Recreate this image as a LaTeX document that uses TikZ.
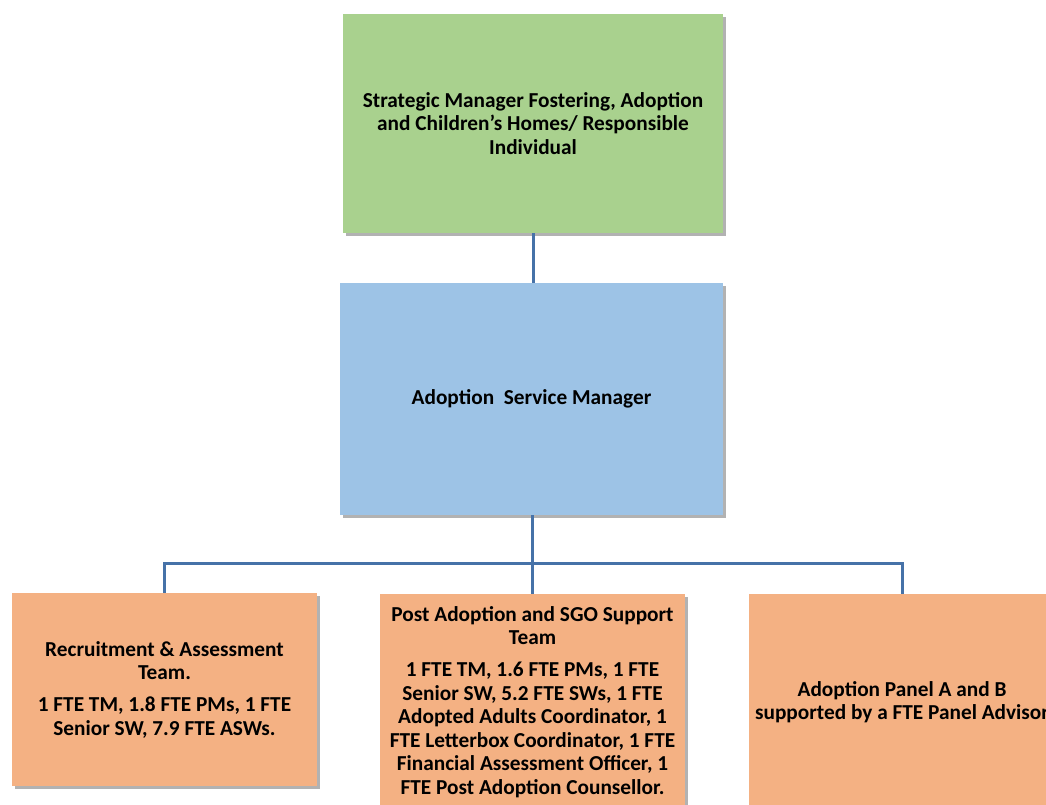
\documentclass[tikz,border=0pt]{standalone}
\usepackage{fontspec}
\setmainfont{Carlito}
\usetikzlibrary{shadows}
\definecolor{boxgreen}{RGB}{169,209,142}
\definecolor{boxblue}{RGB}{157,195,230}
\definecolor{boxorange}{RGB}{244,177,131}
\definecolor{linkblue}{RGB}{70,114,168}
\tikzset{
  boxfont/.style={font=\bfseries\fontsize{21.3}{23.5}\selectfont},
  orgbox/.style={inner sep=0pt, align=center, boxfont,
    drop shadow={shadow xshift=2.5pt,shadow yshift=-3pt,fill=black,opacity=.3}},
  link/.style={draw=linkblue, line width=3pt}
}
\begin{document}
\begin{tikzpicture}[x=1pt,y=-1pt]
\useasboundingbox (0,0) rectangle (1046,805);
\node[orgbox, fill=boxgreen, minimum width=380pt, minimum height=219pt] (strat) at (533,123.5)
  {Strategic Manager Fostering, Adoption\\and Children’s Homes/ Responsible\\Individual};
\node[orgbox, fill=boxblue, minimum width=383pt, minimum height=232pt] (asm) at (531.5,399)
  {Adoption\ \ Service Manager};
\node[orgbox, fill=boxorange, minimum width=305pt, minimum height=193pt] (ra) at (164.5,689.5)
  {Recruitment \& Assessment\\Team.\\[8.5pt]1 FTE TM, 1.8 FTE PMs, 1 FTE\\Senior SW, 7.9 FTE ASWs.};
\node[orgbox, fill=boxorange, minimum width=305pt, minimum height=216pt, anchor=north] (pa) at (532.5,594) {};
\node[align=center, inner sep=0pt, anchor=north, boxfont] (patext) at (532.5,606)
  {Post Adoption and SGO Support\\Team\\[8.5pt]1 FTE TM, 1.6 FTE PMs, 1 FTE\\Senior SW, 5.2 FTE SWs, 1 FTE\\Adopted Adults Coordinator, 1\\FTE Letterbox Coordinator, 1 FTE\\Financial Assessment Officer, 1\\FTE Post Adoption Counsellor.};
\node[orgbox, fill=boxorange, minimum width=306pt, minimum height=216pt, anchor=north] (panel) at (902,594)
  {Adoption Panel A and B\\supported by a FTE Panel Advisor};
\coordinate (bar) at (533,563);
\draw[link] (strat.south) -- (strat.south |- asm.north);
\draw[link] (asm.south -| pa.north) -- (pa.north);
\draw[link] (ra.north) -- (ra.north |- bar) -- (panel.north |- bar) -- (panel.north);
\end{tikzpicture}
\end{document}
